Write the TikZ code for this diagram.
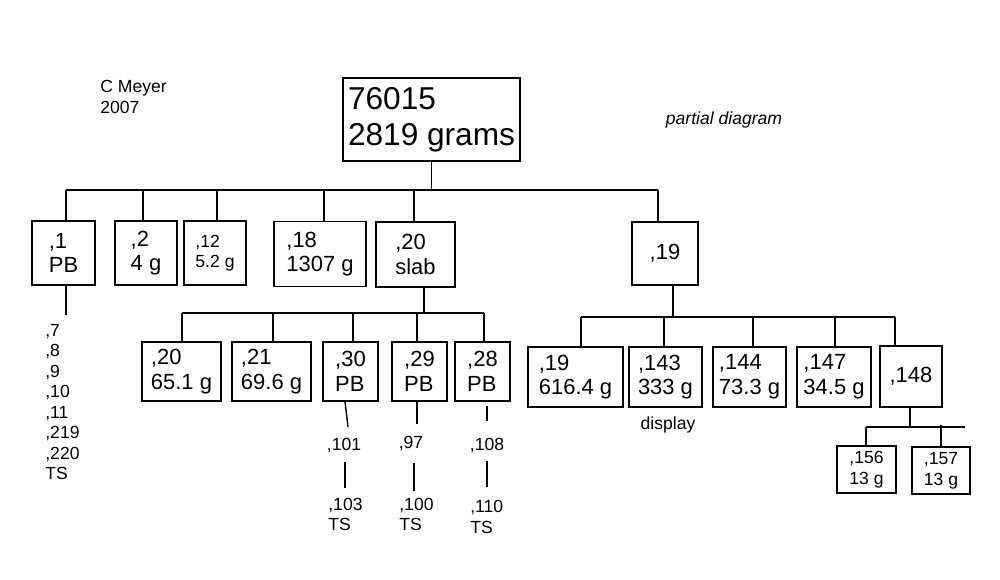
\documentclass[tikz,border=0pt]{standalone}
\usepackage{fontspec}
\setmainfont{Liberation Sans}
\newcommand\myLarge{\fontsize{18pt}{20.4pt}\selectfont}
\newcommand\myMed{\fontsize{12.5pt}{14pt}\selectfont}
\newcommand\mySmall{\fontsize{10pt}{11.7pt}\selectfont}
\begin{document}
\begin{tikzpicture}[x=0.02cm,y=-0.02cm,
  ln/.style={line width=0.8pt},
  bx/.style 2 args={draw,line width=0.8pt,inner sep=0pt,align=left,
     minimum width=#1*0.02cm,minimum height=#2*0.02cm,font=\myMed},
  sbx/.style 2 args={bx={#1}{#2},font=\mySmall},
  lbl/.style={inner sep=0pt,align=left,font=\mySmall}]
\useasboundingbox (0,0) rectangle (1000,580);
% title texts
\node[lbl,anchor=west] (author) at (100,97) {C Meyer\\2007};
\node[lbl,font=\mySmall\itshape] (partial) at (724,120) {partial diagram};
% root
\node[bx={177}{83},font=\myLarge] (root) at (431.5,119.5) {76015\\2819 grams};
% level 1
\node[bx={63}{64}] (c1) at (63.5,253) {,1\\PB};
\node[bx={62}{64}] (c2) at (146,253) {,2\\4 g};
\node[sbx={62}{64}] (c12) at (215,253) {,12\\5.2 g};
\node[bx={92}{65}] (c18) at (320,254) {,18\\1307 g};
\node[bx={79}{65}] (c20) at (415.5,254.5) {,20\\slab};
\node[bx={66}{63}] (c19) at (665,253.5) {,19};
% level 1 connectors
\coordinate (b1L) at (66,190);
\coordinate (b1R) at (658,190);
\draw[ln] (root.south) -- (root.south |- b1L);
\draw[ln] (b1L) -- (b1R);
\draw[ln] (b1L) -- (c1.north -| b1L);
\draw[ln] (143,190) -- (c2.north -| 143,0);
\draw[ln] (217,190) -- (c12.north -| 217,0);
\draw[ln] (324,190) -- (c18.north -| 324,0);
\draw[ln] (414,190) -- (c20.north -| 414,0);
\draw[ln] (b1R) -- (c19.north -| b1R);
% list under ,1
\node[lbl,anchor=west] (list1) at (45,402) {,7\\,8\\,9\\,10\\,11\\,219\\,220\\TS};
\draw[ln] (c1.south -| 66,0) -- (66,315);
% level 2 under ,20 slab
\node[bx={79}{59}] (d20) at (181.5,371.5) {,20\\65.1 g};
\node[bx={79}{59}] (d21) at (271.5,371.5) {,21\\69.6 g};
\node[bx={55}{59}] (d30) at (350.5,371.5) {,30\\PB};
\node[bx={55}{59}] (d29) at (419.5,371.5) {,29\\PB};
\node[bx={55}{59}] (d28) at (482.5,371.5) {,28\\PB};
\coordinate (b2L) at (182,313);
\coordinate (b2R) at (484,313);
\draw[ln] (c20.south -| 424,0) -- (424,313);
\draw[ln] (b2L) -- (b2R);
\draw[ln] (b2L) -- (d20.north -| b2L);
\draw[ln] (273,313) -- (d21.north -| 273,0);
\draw[ln] (353,313) -- (d30.north -| 353,0);
\draw[ln] (417,313) -- (d29.north -| 417,0);
\draw[ln] (b2R) -- (d28.north -| b2R);
% sub labels
\node[lbl] (l101) at (344,445) {,101};
\node[lbl,anchor=west] (l103) at (328,514.5) {,103\\TS};
\node[lbl] (l97) at (411,443) {,97};
\node[lbl,anchor=west] (l100) at (399,514.5) {,100\\TS};
\node[lbl] (l108) at (487,445) {,108};
\node[lbl,anchor=west] (l110) at (470,517) {,110\\TS};
\draw[ln] (d30.south -| 345,0) -- (348,427);
\draw[ln] (345,462) -- (345,488);
\draw[ln] (d29.south -| 417,0) -- (417,424);
\draw[ln] (414,463) -- (414,491);
\draw[ln] (487,406) -- (487,421);
\draw[ln] (487,461) -- (487,487);
% level 2 under ,19
\node[bx={95}{60}] (e19) at (575.5,377) {,19\\616.4 g};
\node[bx={73}{60}] (e143) at (665.5,377) {,143\\333 g};
\node[bx={73}{60}] (e144) at (749.5,377) {,144\\73.3 g};
\node[bx={74}{60}] (e147) at (834,377) {,147\\34.5 g};
\node[bx={62}{61}] (e148) at (911,376.5) {,148};
\node[lbl] (display) at (668,425) {display};
\coordinate (b3L) at (581,317);
\coordinate (b3R) at (895,317);
\draw[ln] (c19.south -| 673,0) -- (673,317);
\draw[ln] (b3L) -- (b3R);
\draw[ln] (b3L) -- (e19.north -| b3L);
\draw[ln] (664,317) -- (e143.north -| 664,0);
\draw[ln] (753,317) -- (e144.north -| 753,0);
\draw[ln] (835,317) -- (e147.north -| 835,0);
\draw[ln] (b3R) -- (e148.north -| b3R);
% level 3 under ,148
\node[sbx={59}{47},font=\fontsize{10pt}{11.9pt}\selectfont] (f156) at (866.5,469.5) {,156\\13 g};
\node[sbx={58}{47},font=\fontsize{10pt}{11.9pt}\selectfont] (f157) at (941,470.5) {,157\\13 g};
\coordinate (b4L) at (866,427);
\coordinate (b4R) at (965,427);
\draw[ln] (e148.south -| 910,0) -- (910,427);
\draw[ln] (b4L) -- (b4R);
\draw[ln] (b4L) -- (f156.north -| b4L);
\draw[ln] (941,425) -- (f157.north);
\end{tikzpicture}
\end{document}
